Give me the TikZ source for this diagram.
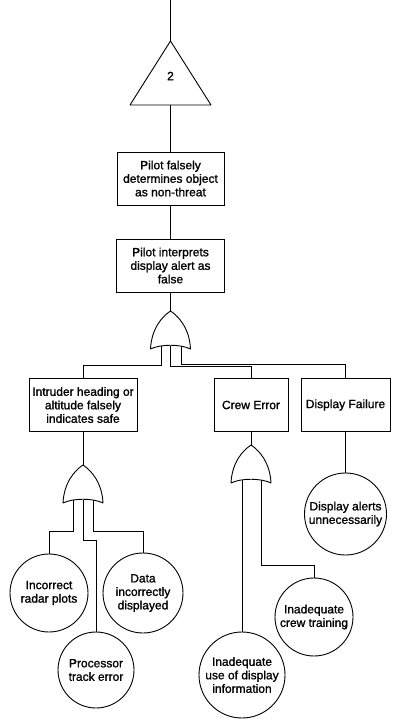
\documentclass[tikz,border=0pt]{standalone}
\usepackage{fontspec}
\setmainfont[FakeBold=1.2]{Liberation Sans}
\usetikzlibrary{calc}
\begin{document}
\begin{tikzpicture}[x=1pt,y=-1pt, line width=0.9pt,
  lbl/.style={font=\fontsize{12}{13.5}\selectfont, align=center},
  box/.style={draw, lbl, inner sep=0pt, minimum height=53pt},
  event/.style={draw, circle, lbl, inner sep=0pt},
  orgate/.pic={\draw[line join=round] (-20,38) .. controls (-19,18) and (-9,6) .. (0,0)
      .. controls (9,6) and (19,18) .. (20,38) .. controls (10,33) and (-10,33) .. cycle;}
]
\useasboundingbox (0,0) rectangle (392,720);

% transfer triangle at the top
\coordinate (topend) at (170.5,0);
\coordinate (triapex) at (170.5,41);
\coordinate (tribase) at (170.5,105);
\draw (topend) -- (triapex);
\draw[line join=round] (triapex) -- (130,105) -- (211,105) -- cycle;
\node[lbl] (tri) at (170.5,76) {2};

% top events
\node[box, minimum width=107pt] (p1) at (170.5,178.5) {Pilot falsely\\determines object\\as non-threat};
\node[box, minimum width=108pt] (p2) at (170.5,265.5) {Pilot interprets\\display alert as\\false};
\draw (tribase) -- (p1.north);
\draw (p1.south) -- (p2.north);

% main OR gate
\coordinate (g1) at (170.5,311);
\pic at (g1) {orgate};
\draw (p2.south) -- (g1);

% intermediate events
\node[box, minimum width=108pt] (ib) at (83,405) {Intruder heading or\\altitude falsely\\indicates safe};
\node[box, minimum width=74pt] (cb) at (251,405) {Crew Error};
\node[box, minimum width=89pt] (db) at (345.5,405) {Display Failure};

\coordinate (g1l) at ($(g1)+(-9.5,35)$);
\coordinate (g1m) at ($(g1)+(0,34.5)$);
\coordinate (g1r) at ($(g1)+(10.5,35)$);
\draw (g1l) -- ++(0,19) -| (ib.north);
\draw (g1m) -- ++(0,20.5) -| (cb.north);
\draw (g1r) -- ++(0,18) -| (db.north);

% OR gate under the intruder event
\coordinate (g2) at (83,465);
\pic at (g2) {orgate};
\draw (ib.south) -- (g2);

\node[event, minimum size=78pt] (radar) at (49,593) {Incorrect\\radar plots};
\node[event, minimum size=80pt] (data) at (143,593) {Data\\incorrectly\\displayed};
\node[event, minimum size=76pt] (proc) at (96,670) {Processor\\track error};

\coordinate (g2l) at ($(g2)+(-10,35)$);
\coordinate (g2m) at ($(g2)+(0,34.5)$);
\coordinate (g2r) at ($(g2)+(10,35)$);
\draw (g2l) -- ++(0,31) -| (radar.north);
\draw (g2m) -- ++(0,41) -| (proc.north);
\draw (g2r) -- ++(0,31) -| (data.north);

% OR gate under the crew event
\coordinate (g3) at (251,445);
\pic at (g3) {orgate};
\draw (cb.south) -- (g3);

\node[event, minimum size=78pt] (train) at (314,617) {Inadequate\\crew training};
\node[event, minimum size=86pt] (use) at (242,675) {Inadequate\\use of display\\information};

\coordinate (g3l) at ($(g3)+(-9,35)$);
\coordinate (g3r) at ($(g3)+(10,35)$);
\draw (g3l) -- (use.north);
\draw (g3r) -- ++(0,85) -| (train.north);

% display failure basic event
\node[event, minimum size=82pt] (alerts) at (345.5,514) {Display alerts\\unnecessarily};
\draw (db.south) -- (alerts.north);
\end{tikzpicture}
\end{document}
